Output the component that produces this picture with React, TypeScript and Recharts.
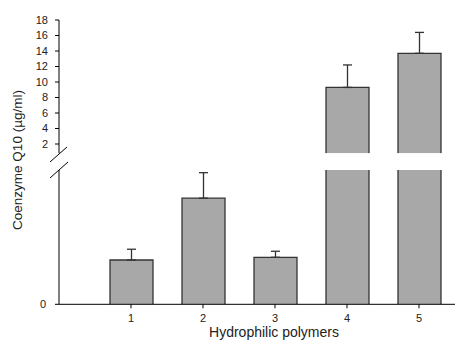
import { BarChart, Bar, XAxis, YAxis, ErrorBar, Label } from 'recharts'

const polymers = [1, 2, 3, 4, 5]
const meanQ10 = [0.33, 0.79, 0.35, 9.3, 13.7]
const sdQ10 = [0.08, 0.19, 0.045, 2.9, 2.7]
const upperTicks = [2, 4, 6, 8, 10, 12, 14, 16, 18]
const lowerTicks = [0]
const xTicks = [1, 2, 3, 4, 5]

// broken axis: lower panel 0..1, upper panel ~0.8..18
const LOWER_MAX = 1
const UPPER_MIN = 0.8
const UPPER_MAX = 18

const rows = polymers.map((p, i) => ({
  x: p,
  y: meanQ10[i],
  err: [0, sdQ10[i]],
  // error bars of the tall bars belong to the upper panel only
  errLower: meanQ10[i] <= LOWER_MAX ? [0, sdQ10[i]] : [0, 0],
}))
const upperRows = rows.filter((r) => r.y > LOWER_MAX)

const FONT = '"Liberation Sans", Arial, sans-serif'
const tickStyle = { fontSize: 11, fill: '#222' }

// fill plus left/top/right outline, so the cut edges at the break stay open
function OpenBar(props: any) {
  const { x, y, width, height } = props
  if (height == null || width == null) return null
  return (
    <g>
      <rect x={x} y={y} width={width} height={height} fill="#a8a8a8" />
      <path d={`M${x},${y + height} V${y} H${x + width} V${y + height}`} fill="none" stroke="#333" strokeWidth={1.3} />
    </g>
  )
}

export default function App() {
  return (
    <div style={{ position: 'absolute', left: 0, top: 0, width: 456, height: 341, background: '#fff', fontFamily: FONT }}>
      <div style={{ position: 'absolute', left: 0, top: 0 }}>
        <BarChart width={456} height={160} data={upperRows} margin={{ top: 20, right: 1, bottom: 6.7, left: 0 }}>
          <XAxis dataKey="x" type="number" domain={[0, 5.5]} hide />
          <YAxis
            width={59}
            type="number"
            domain={[UPPER_MIN, UPPER_MAX]}
            allowDataOverflow
            ticks={upperTicks}
            interval={0}
            tickSize={4}
            tickMargin={7}
            tick={tickStyle}
            axisLine={{ stroke: '#000' }}
            tickLine={{ stroke: '#000' }}
          />
          <Bar dataKey="y" barSize={43} shape={<OpenBar />} isAnimationActive={false}>
            <ErrorBar dataKey="err" width={4.5} stroke="#333" strokeWidth={1.3} direction="y" />
          </Bar>
        </BarChart>
      </div>
      <div style={{ position: 'absolute', left: 0, top: 0 }}>
        <BarChart width={456} height={341} data={rows} margin={{ top: 170, right: 1, bottom: 0.7, left: 0 }}>
          <XAxis
            dataKey="x"
            type="number"
            domain={[0, 5.5]}
            ticks={xTicks}
            interval={0}
            height={36}
            tickSize={4}
            tickMargin={6}
            tick={tickStyle}
            axisLine={{ stroke: '#000' }}
            tickLine={{ stroke: '#000' }}
          >
            <Label value="Hydrophilic polymers" position="insideBottom" offset={3} dx={17} style={{ fontSize: 14, fill: '#222' }} />
          </XAxis>
          <YAxis
            width={59}
            type="number"
            domain={[0, LOWER_MAX]}
            allowDataOverflow
            ticks={lowerTicks}
            tickSize={4}
            tickMargin={9}
            tick={tickStyle}
            axisLine={{ stroke: '#000' }}
            tickLine={{ stroke: '#000' }}
          />
          <Bar dataKey="y" barSize={43} shape={<OpenBar />} isAnimationActive={false}>
            <ErrorBar dataKey="errLower" width={4.5} stroke="#333" strokeWidth={1.3} direction="y" />
          </Bar>
        </BarChart>
      </div>
      <svg width={456} height={341} style={{ position: 'absolute', left: 0, top: 0, pointerEvents: 'none' }}>
        <line x1={50} y1={162} x2={67} y2={147} stroke="#000" />
        <line x1={50} y1={178} x2={68} y2={162} stroke="#000" />
        <text
          x={17.5}
          y={160}
          transform="rotate(-90 17.5 160)"
          textAnchor="middle"
          dominantBaseline="central"
          fontSize={13.5}
          fill="#222"
        >
          Coenzyme Q10 (µg/ml)
        </text>
      </svg>
    </div>
  )
}
